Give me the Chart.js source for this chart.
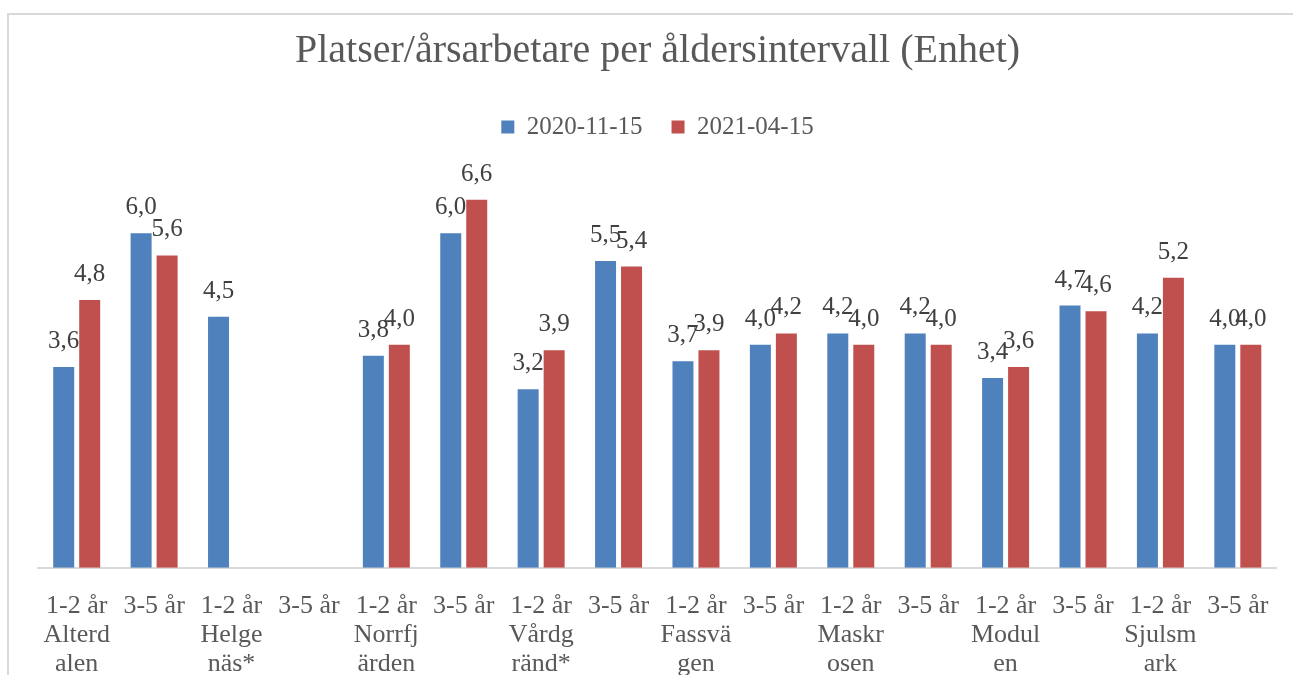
<!DOCTYPE html>
<html lang="sv">
<head>
<meta charset="utf-8">
<title>Platser/årsarbetare per åldersintervall</title>
<script src="https://cdn.jsdelivr.net/npm/chart.js@4/dist/chart.umd.min.js"></script>
<style>
  html, body { margin: 0; padding: 0; background: #ffffff; overflow: hidden; }
  #wrap { position: absolute; left: 0; top: 0; width: 1293px; height: 675px; }
  #frame {
    position: absolute; left: 7px; top: 13px; width: 1400px; height: 800px;
    border-left: 2px solid #d9d9d9; border-top: 2px solid #d9d9d9;
    pointer-events: none;
  }
</style>
</head>
<body>
<div id="wrap">
  <canvas id="chart" width="1293" height="675"></canvas>
  <div id="frame"></div>
</div>
<script>
// Enheter och åldersintervall (varje enhet har 1-2 år och 3-5 år)
const units = ['Alterdalen', 'Helgenäs*', 'Norrfjärden', 'Vårdgränd*', 'Fassvägen', 'Maskrosen', 'Modulen', 'Sjulsmark'];
const unitLines = [['Alterd', 'alen'], ['Helge', 'näs*'], ['Norrfj', 'ärden'], ['Vårdg', 'ränd*'],
                   ['Fassvä', 'gen'], ['Maskr', 'osen'], ['Modul', 'en'], ['Sjulsm', 'ark']];
const ageGroups = ['1-2 år', '3-5 år'];

// Platser per årsarbetare
const series2020 = [3.6, 6.0, 4.5, null, 3.8, 6.0, 3.2, 5.5, 3.7, 4.0, 4.2, 4.2, 3.4, 4.7, 4.2, 4.0];
const series2021 = [4.8, 5.6, null, null, 4.0, 6.6, 3.9, 5.4, 3.9, 4.2, 4.0, 4.0, 3.6, 4.6, 5.2, 4.0];
const seriesNames = ['2020-11-15', '2021-04-15'];

// Kategorietiketter: åldersintervall, följt av enhetens namn under första intervallet
const labels = [];
units.forEach((u, i) => {
  ageGroups.forEach((g, j) => {
    labels.push(j === 0 ? [g].concat(unitLines[i]) : [g]);
  });
});

const FONT = "'Liberation Serif', 'Times New Roman', serif";
const fmt = v => v.toFixed(1).replace('.', ',');

// Värdeetiketter ovanför staplarna
const valueLabels = {
  id: 'valueLabels',
  afterDatasetsDraw(chart) {
    const ctx = chart.ctx;
    ctx.save();
    ctx.font = '25px ' + FONT;
    ctx.fillStyle = '#404040';
    ctx.textAlign = 'center';
    ctx.textBaseline = 'alphabetic';
    chart.data.datasets.forEach((ds, di) => {
      const meta = chart.getDatasetMeta(di);
      meta.data.forEach((bar, i) => {
        const v = ds.data[i];
        if (v === null || v === undefined) return;
        ctx.fillText(fmt(v), bar.x, bar.y - 19);
      });
    });
    ctx.restore();
  }
};

new Chart(document.getElementById('chart'), {
  type: 'bar',
  data: {
    labels: labels,
    datasets: [
      { label: seriesNames[0], data: series2020, backgroundColor: '#4f81bd', borderWidth: 0 },
      { label: seriesNames[1], data: series2021, backgroundColor: '#c0504d', borderWidth: 0 }
    ]
  },
  options: {
    responsive: false,
    animation: false,
    events: [],
    categoryPercentage: 0.6715,
    barPercentage: 0.8077,
    layout: { padding: { left: 38, right: 16, top: 0, bottom: -28 } },
    plugins: {
      title: {
        display: true,
        text: 'Platser/årsarbetare per åldersintervall (Enhet)',
        color: '#595959',
        font: { family: FONT, size: 40, weight: 'normal', lineHeight: 1.2 },
        padding: { top: 27, bottom: 10.5 }
      },
      legend: {
        display: true,
        position: 'top',
        labels: {
          color: '#595959',
          font: { family: FONT, size: 25 },
          boxWidth: 13,
          boxHeight: 13,
          padding: 29
        }
      },
      tooltip: { enabled: false }
    },
    scales: {
      x: {
        grid: { display: false, drawTicks: false },
        border: { display: true, color: '#d9d9d9', width: 2 },
        ticks: {
          color: '#595959',
          font: { family: FONT, size: 26, lineHeight: 1.12 },
          padding: 24,
          maxRotation: 0,
          autoSkip: false
        }
      },
      y: {
        display: false,
        min: 0,
        max: 7.5
      }
    }
  },
  plugins: [valueLabels]
});
</script>
</body>
</html>
